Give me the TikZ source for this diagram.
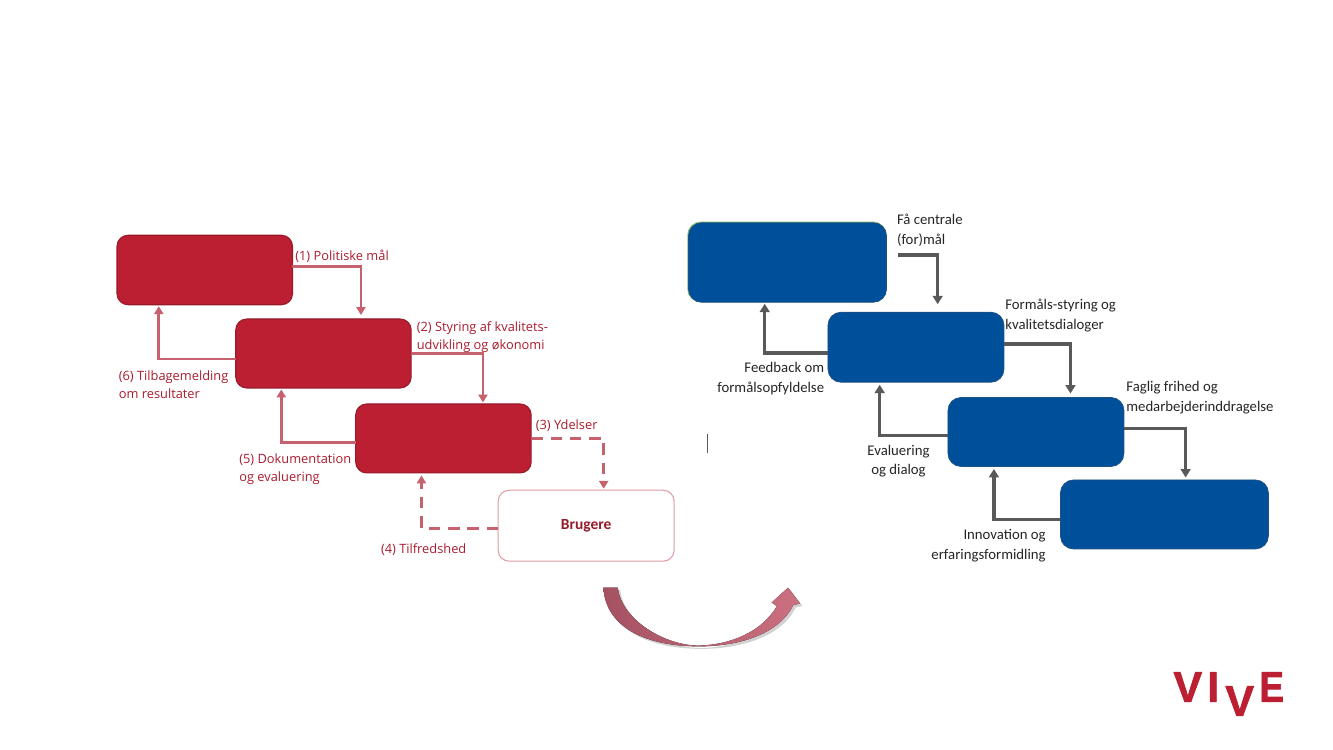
\documentclass[tikz,border=0pt]{standalone}
\usepackage{fontspec}
\setmainfont{Open Sans}
\newfontfamily\calfont{Carlito}
\newfontfamily\logofont[BoldFeatures={FakeBold=1.5}]{Liberation Sans}
\usepackage{tikz}
\usetikzlibrary{
  arrows.meta,
  positioning,
  shadows
}
\definecolor{vivered}{RGB}{188,31,49}
\definecolor{vivedark}{RGB}{150,26,42}
\definecolor{labelred}{RGB}{170,28,46}
\definecolor{arrowred}{RGB}{197,98,110}
\definecolor{edgepink}{RGB}{222,156,163}
\definecolor{boxblue}{RGB}{0,79,155}
\definecolor{edgeblue}{RGB}{30,80,130}
\definecolor{edgegreen}{RGB}{140,190,110}
\definecolor{arrowgray}{RGB}{89,89,89}
\definecolor{labelgray}{RGB}{38,38,38}
\definecolor{bendleft}{RGB}{165,82,98}
\definecolor{bendright}{RGB}{203,112,128}
\tikzset{
  redbox/.style={rectangle,rounded corners=0.22cm,draw=vivedark,line width=0.6pt,fill=vivered,outer sep=0pt,minimum width=3.51cm,minimum height=1.38cm},
  userbox/.style={rectangle,rounded corners=0.22cm,draw=edgepink,line width=0.6pt,fill=white,outer sep=0pt,minimum width=3.52cm,minimum height=1.42cm,text=vivedark,font=\calfont\fontsize{8.8}{10}\selectfont\bfseries},
  bluebox/.style={rectangle,rounded corners=0.26cm,draw=edgeblue,line width=0.4pt,fill=boxblue,outer sep=0pt,minimum width=3.52cm,minimum height=1.38cm},
  greenedge/.style={preaction={draw=edgegreen,line width=0.8pt,transform canvas={xshift=#1,yshift=0.3pt}}},
  redlabel/.style={inner sep=0pt,align=left,text=labelred,font=\fontsize{7.3}{10.1}\selectfont},
  graylabel/.style={inner sep=0pt,align=left,text=labelgray,font=\calfont\fontsize{8.4}{11.3}\selectfont},
  redarr/.style={-{Triangle[width=5.2pt,length=4.5pt]},line width=1.6pt,color=arrowred,shorten >=0.03cm},
  reddash/.style={redarr,dash pattern=on 6.5pt off 4.5pt},
  grayarr/.style={-{Triangle[width=5.6pt,length=4.8pt]},line width=1.8pt,color=arrowgray,shorten >=0.05cm},
  logotext/.style={inner sep=0pt,text=vivered,font=\logofont\fontsize{24.5}{25}\selectfont\bfseries}
}

\begin{document}
\begin{tikzpicture}[x=0.02cm,y=-0.02cm]
  \useasboundingbox[fill=white] (0,0) rectangle (1333,750);

  % left chain
  \node[redbox,minimum height=1.39cm] (polit) at (204.75,270) {};
  \node[redbox,below right=0.285cm and -1.135cm of polit] (ledelse) {};
  \node[redbox,below right=0.32cm and -1.11cm of ledelse] (udfoer) {};
  \node[userbox,below right=0.345cm and -0.66cm of udfoer] (brugere) {Brugere};

  % right chain
  \node[bluebox,greenedge=-0.3pt,minimum width=3.96cm,minimum height=1.59cm] (fpolit) at (787.5,262.5) {};
  \node[bluebox,minimum height=1.4cm,below right=0.2cm and -1.17cm of fpolit] (fledelse) {};
  \node[bluebox,below right=0.305cm and -1.12cm of fledelse] (fudfoer) {};
  \node[bluebox,minimum width=4.16cm,below right=0.27cm and -1.27cm of fudfoer] (fbruger) {};

  % left arrows
  \draw[redarr,shorten >=0.08cm] ([yshift=0.07cm]polit.east) -| ([xshift=0.75cm]ledelse.north);
  \draw[redarr] (ledelse.east) -| ([xshift=0.79cm]udfoer.north);
  \draw[reddash] (udfoer.east) -| ([xshift=0.35cm]brugere.north);
  \draw[reddash,shorten >=0.05cm] ([yshift=-0.05cm]brugere.west) -| ([xshift=-0.44cm]udfoer.south);
  \draw[redarr] ([yshift=-0.08cm]udfoer.west) -| ([xshift=-0.844cm]ledelse.south);
  \draw[redarr] ([yshift=-0.11cm]ledelse.west) -| ([xshift=-0.92cm]polit.south);

  % right arrows
  \coordinate (fstart) at (898,255);
  \draw[grayarr,shorten >=0.16cm] (fstart) -| ([xshift=0.434cm]fledelse.north);
  \draw[grayarr,shorten >=0.08cm] ([yshift=0.064cm]fledelse.east) -| ([xshift=0.69cm]fudfoer.north);
  \draw[grayarr] ([yshift=0.074cm]fudfoer.east) -| ([xshift=0.424cm]fbruger.north);
  \draw[grayarr] ([yshift=-0.104cm]fbruger.west) -| ([xshift=-0.84cm]fudfoer.south);
  \draw[grayarr] ([yshift=-0.074cm]fudfoer.west) -| ([xshift=-0.726cm]fledelse.south);
  \draw[grayarr,shorten >=0.03cm] ([yshift=-0.116cm]fledelse.west) -| ([xshift=-0.456cm]fpolit.south);

  % left labels
  \node[redlabel,anchor=west] (lab1) at (295,256) {(1) Politiske mål};
  \node[redlabel,anchor=west] (lab2) at (416.5,337.5) {(2) Styring af kvalitets-\\udvikling og økonomi};
  \node[redlabel,anchor=west] (lab3) at (535.5,425.5) {(3) Ydelser};
  \node[redlabel,anchor=west] (lab4) at (380.7,549.5) {(4) Tilfredshed};
  \node[redlabel,anchor=west] (lab5) at (239,469) {(5) Dokumentation\\og evaluering};
  \node[redlabel,anchor=west] (lab6) at (118.5,385) {(6) Tilbagemelding\\om resultater};

  % right labels
  \node[graylabel,anchor=west] (flab1) at (896.7,230) {Få centrale\\(for)mål};
  \node[graylabel,anchor=west] (flab2) at (1005,315.5) {Formåls-styring og\\kvalitetsdialoger};
  \node[graylabel,anchor=west] (flab3) at (1126,397.5) {Faglig frihed og\\medarbejderinddragelse};
  \node[graylabel,anchor=east,align=right] (flab4) at (824.5,378.2) {Feedback om\\formålsopfyldelse};
  \node[graylabel,align=center] (flab5) at (898.5,461.2) {Evaluering\\og dialog};
  \node[graylabel,anchor=east,align=right] (flab6) at (1046,545.5) {Innovation og\\erfaringsformidling};

  % curved arrow between the two
  \fill[left color=bendleft,right color=bendright,
        drop shadow={opacity=0.35,shadow xshift=0.05cm,shadow yshift=-0.05cm}]
    (603.3,587.5) -- (617.7,587.5)
    .. controls (621,618) and (662,645) .. (698,645.6)
    .. controls (730,645) and (762,632) .. (777,606)
    -- (771.7,602.5) -- (788,587.7) -- (800,603.5) -- (793.3,605)
    .. controls (778,636) and (735,646.5) .. (698,646.4)
    .. controls (650,646) and (606,630) .. cycle;

  % stray tick
  \coordinate (tick) at (707.5,434);
  \draw[arrowgray,line width=0.6pt] (tick) -- ++(0,19);

  % logo
  \node[logotext] (logov) at (1187.8,687) {V};
  \node[logotext] (logoi) at (1213.3,687) {I};
  \node[logotext] (logow) at (1239.7,701) {V};
  \node[logotext,transform shape,xscale=0.85] (logoe) at (1271.7,687) {E};
\end{tikzpicture}
\end{document}
